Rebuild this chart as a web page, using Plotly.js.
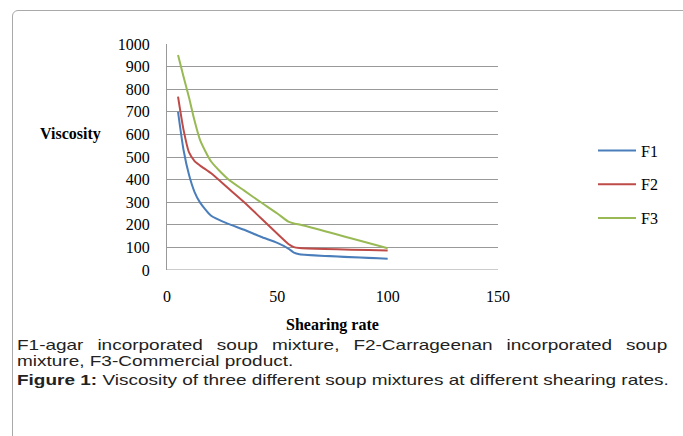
<!DOCTYPE html>
<html>
<head>
<meta charset="utf-8">
<script src="https://cdn.plot.ly/plotly-3.0.1.min.js"></script>
<style>
  html, body { margin: 0; padding: 0; background: #fff; }
  body { width: 683px; height: 436px; position: relative; overflow: hidden; }
  #frame { position: absolute; left: 12px; top: 10px; width: 700px; height: 500px;
           border: 1px solid #a9a9a9; border-radius: 6px; box-sizing: border-box; }
  #chart { position: absolute; left: 0; top: 0; width: 683px; height: 436px; }
  .cap { position: absolute; left: 17px; width: 514px; font-family: "Liberation Sans", Arial, sans-serif;
         font-size: 15px; color: #222; line-height: 16px; white-space: nowrap;
         transform-origin: 0 0; transform: scaleX(1.265); }
  #cap1 { top: 337px; text-align: justify; text-align-last: justify; white-space: normal; }
  #cap2 { top: 353px; }
  #cap3 { top: 372px; }
</style>
</head>
<body>
<div id="frame"></div>
<div id="chart"></div>
<div class="cap" id="cap1">F1-agar incorporated soup mixture, F2-Carrageenan incorporated soup</div>
<div class="cap" id="cap2">mixture, F3-Commercial product.</div>
<div class="cap" id="cap3"><b>Figure 1:</b> Viscosity of three different soup mixtures at different shearing rates.</div>
<script>
const shearRate = [5, 7.5, 10, 12.5, 15, 20, 27.5, 35, 42.5, 50, 55, 57.5, 60, 100];
const F1 = [700, 531, 420, 345, 298, 240, 205, 178, 147, 120, 95, 77, 70, 50];
const F2 = [767, 620, 520, 482, 462, 428, 364, 300, 230, 160, 115, 101, 97, 86];
const F3 = [951, 855, 762, 660, 575, 480, 404, 351, 300, 250, 214, 206, 201, 96];
const seriesNames = ["F1", "F2", "F3"];
const seriesColors = ["#4A7EBB", "#BE4B48", "#98B954"];
const xTicks = [0, 50, 100, 150];
const yTicks = [0, 100, 200, 300, 400, 500, 600, 700, 800, 900, 1000];

const serif = "Liberation Serif, Times New Roman, serif";
const ys = [F1, F2, F3];
const traces = ys.map((y, i) => ({
  x: shearRate, y: y, type: "scatter", mode: "lines", name: seriesNames[i],
  legendgroup: seriesNames[i],
  line: { color: seriesColors[i], width: 2, shape: "spline", smoothing: 0.6 }
}));

const layout = {
  width: 683, height: 436,
  paper_bgcolor: "rgba(0,0,0,0)", plot_bgcolor: "rgba(0,0,0,0)",
  margin: { l: 167, r: 185, t: 44, b: 166 },
  font: { family: serif, size: 16, color: "#000" },
  xaxis: {
    range: [0, 150], tickvals: xTicks, ticktext: xTicks.map(String),
    showgrid: false, zeroline: false, showline: false, ticks: "",
    ticklabelstandoff: 15, tickfont: { family: serif, size: 16, color: "#000" }
  },
  yaxis: {
    range: [0, 1000], tickvals: yTicks, ticktext: yTicks.map(String),
    showgrid: true, gridcolor: "#999999", gridwidth: 1,
    zeroline: false, showline: true, linecolor: "#999999", linewidth: 1,
    ticks: "", ticklabelstandoff: 13, tickfont: { family: serif, size: 16, color: "#000" }
  },
  shapes: [{ type: "line", xref: "paper", yref: "y", x0: 0, x1: 1, y0: 0, y1: 0,
             line: { color: "#999999", width: 1 } }],
  showlegend: true,
  legend: {
    x: 1.287, xanchor: "left", y: 0.604, yanchor: "top",
    font: { family: serif, size: 16, color: "#000" },
    tracegroupgap: 10, itemwidth: 38, bgcolor: "rgba(0,0,0,0)"
  },
  annotations: [
    { text: "<b>Viscosity</b>", xref: "paper", yref: "paper", x: -0.39, y: 0.6,
      xanchor: "left", yanchor: "middle", showarrow: false,
      font: { family: serif, size: 16, color: "#000" } },
    { text: "<b>Shearing rate</b>", xref: "paper", yref: "paper", x: 0.5, y: -0.245,
      xanchor: "center", yanchor: "middle", showarrow: false,
      font: { family: serif, size: 16, color: "#000" } }
  ]
};

Plotly.newPlot("chart", traces, layout, { displayModeBar: false, staticPlot: true });
</script>
</body>
</html>
